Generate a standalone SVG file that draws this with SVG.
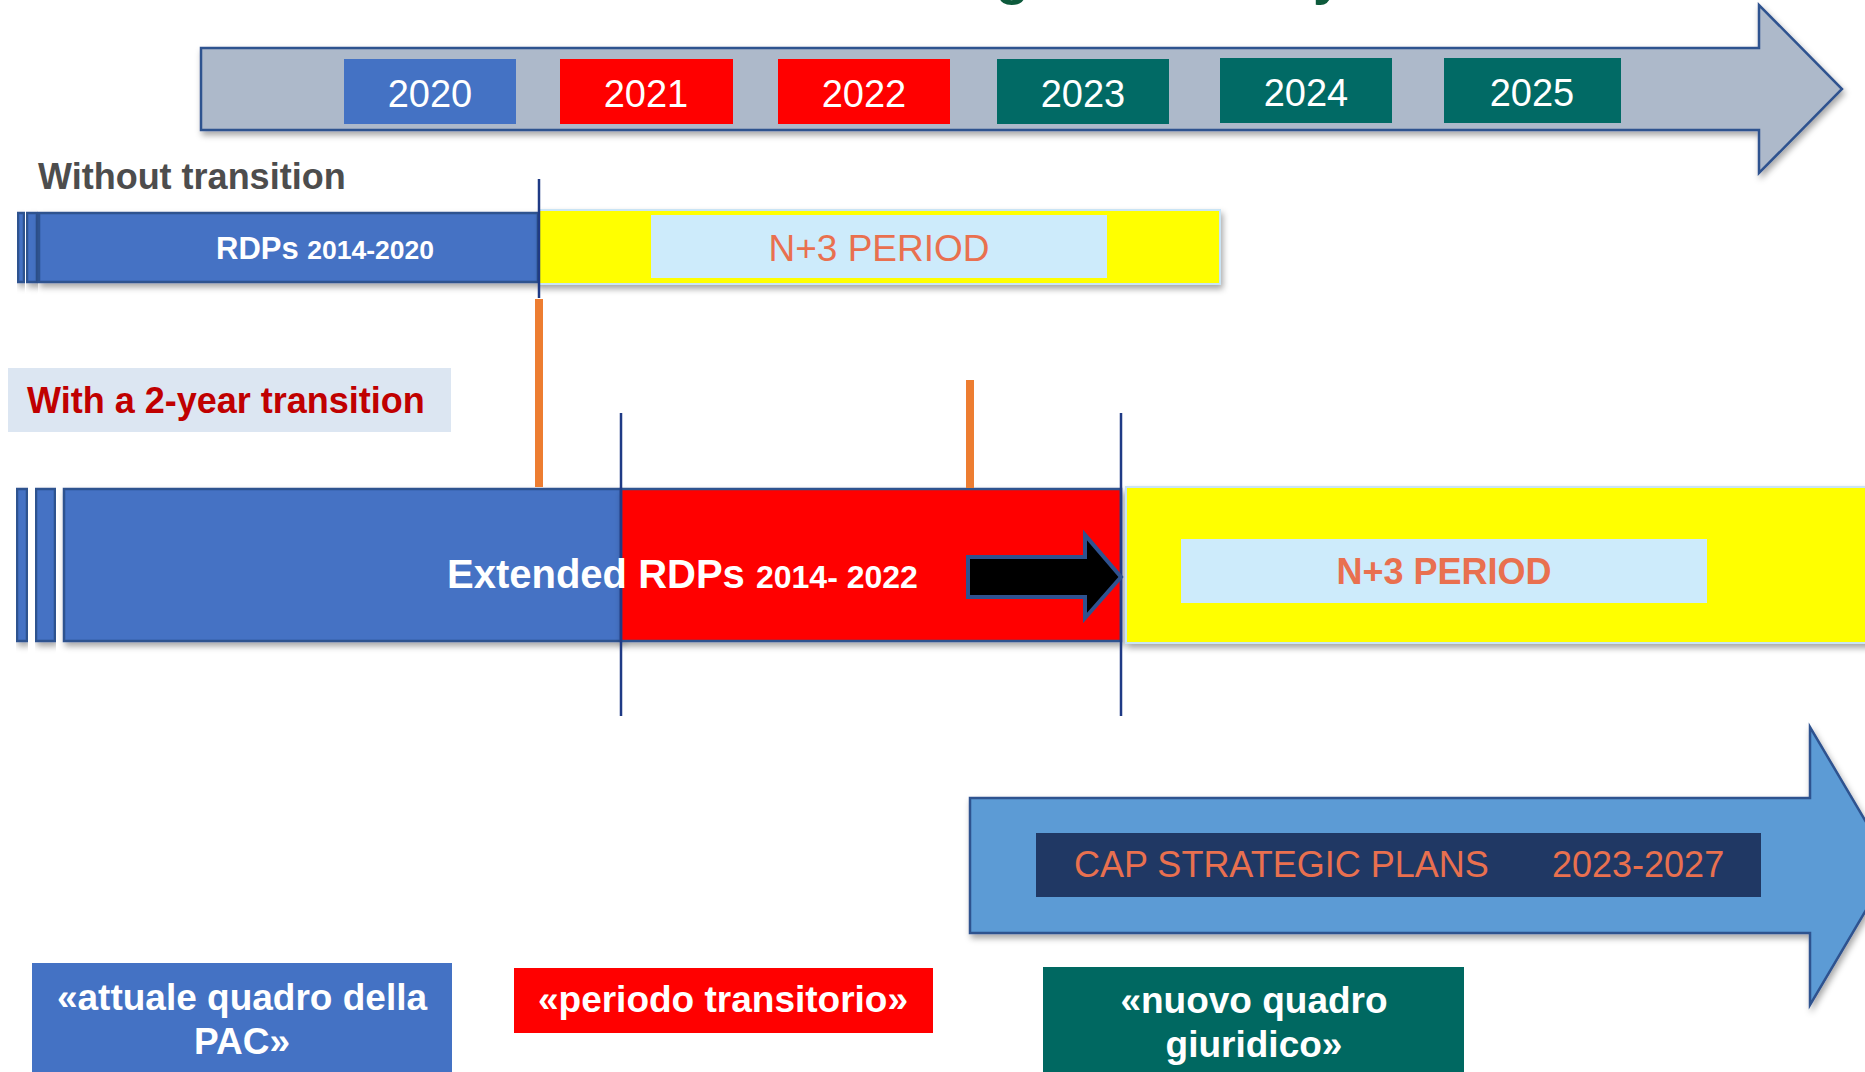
<svg xmlns="http://www.w3.org/2000/svg" width="1865" height="1072" viewBox="0 0 1865 1072">
<defs>
<filter id="sh" x="-5%" y="-20%" width="110%" height="150%">
<feDropShadow dx="2" dy="4" stdDeviation="3" flood-color="#000" flood-opacity="0.35"/>
</filter>
</defs>
<style>
.t{font-family:"Liberation Sans",Arial,sans-serif}
.b{font-weight:bold}
.yr{font-size:38px;fill:#fff;text-anchor:middle}
.bar{fill:#4472c4;stroke:#2f528f;stroke-width:2.5}
.red{fill:#ff0000;stroke:#2f528f;stroke-width:2.5}
.yel{fill:#ffff00;stroke:#c9e4f5;stroke-width:2}
.inner{fill:#cdebfb}
.coral{fill:#e9704f}
.wht{fill:#fff}
.vl{stroke:#1f3a85;stroke-width:2.5}
.or{stroke:#ed7d31;stroke-width:8}
</style>

<g id="title">
<text class="t b" x="996" y="-6" font-size="54" fill="#0d5a3c">g</text>
<text class="t b" x="1313" y="-6" font-size="54" fill="#0d5a3c">y</text>
</g>

<g id="timeline-arrow">
<path d="M201,48 L1759,48 L1759,5 L1842,89 L1759,173 L1759,130 L201,130 Z" fill="#adb9ca" stroke="#2f528f" stroke-width="2.5" filter="url(#sh)"/>
</g>
<g id="y2020"><rect x="344" y="59" width="172" height="65" fill="#4472c4"/><text class="t yr" x="430" y="107">2020</text></g>
<g id="y2021"><rect x="560" y="59" width="173" height="65" fill="#ff0000"/><text class="t yr" x="646" y="107">2021</text></g>
<g id="y2022"><rect x="778" y="59" width="172" height="65" fill="#ff0000"/><text class="t yr" x="864" y="107">2022</text></g>
<g id="y2023"><rect x="997" y="59" width="172" height="65" fill="#016a65"/><text class="t yr" x="1083" y="107">2023</text></g>
<g id="y2024"><rect x="1220" y="58" width="172" height="65" fill="#016a65"/><text class="t yr" x="1306" y="106">2024</text></g>
<g id="y2025"><rect x="1444" y="58" width="177" height="65" fill="#016a65"/><text class="t yr" x="1532" y="106">2025</text></g>

<g id="label-without">
<text class="t b" x="38" y="189" font-size="36" fill="#4d4d4d">Without transition</text>
</g>

<g id="rdps-2014-2020">
<rect class="bar" x="18" y="213" width="6" height="69" filter="url(#sh)"/>
<rect class="bar" x="27" y="213" width="10" height="69" filter="url(#sh)"/>
<rect class="bar" x="39" y="213" width="499" height="69" filter="url(#sh)"/>
<text class="t b wht" x="216" y="259" font-size="31">RDPs <tspan font-size="26.5">2014-2020</tspan></text>
</g>

<g id="n3-top">
<rect class="yel" x="539" y="210" width="681" height="74" filter="url(#sh)"/>
<rect class="inner" x="651" y="215" width="456" height="63"/>
<text class="t coral" x="879" y="261" font-size="37" text-anchor="middle">N+3 PERIOD</text>
</g>

<g id="label-with">
<rect x="8" y="368" width="443" height="64" fill="#dce6f2"/>
<text class="t b" x="27" y="413" font-size="36" fill="#c00000">With a 2-year transition</text>
</g>

<g id="extended-rdps">
<rect class="bar" x="17" y="489" width="10" height="152" filter="url(#sh)"/>
<rect class="bar" x="36" y="489" width="19" height="152" filter="url(#sh)"/>
<rect class="bar" x="64" y="489" width="557" height="152" filter="url(#sh)"/>
<rect class="red" x="621" y="489" width="500" height="152" filter="url(#sh)"/>
</g>

<g id="n3-bottom">
<rect class="yel" x="1126" y="487" width="745" height="156" filter="url(#sh)"/>
<rect class="inner" x="1181" y="539" width="526" height="64"/>
<text class="t b coral" x="1444" y="584" font-size="36" text-anchor="middle">N+3 PERIOD</text>
</g>

<g id="connectors">
<line class="vl" x1="539" y1="179" x2="539" y2="298"/>
<line class="or" x1="539" y1="299" x2="539" y2="487"/>
<line class="or" x1="970" y1="380" x2="970" y2="488"/>
<line class="vl" x1="621" y1="413" x2="621" y2="716"/>
<line class="vl" x1="1121" y1="413" x2="1121" y2="716"/>
<path d="M968,557 L1085,557 L1085,535 L1121,577 L1085,618 L1085,597 L968,597 Z" fill="#000" stroke="#2f528f" stroke-width="4"/>
</g>

<g id="extended-label">
<text class="t b wht" x="447" y="588" font-size="40">Extended RDPs <tspan font-size="32">2014- 2022</tspan></text>
</g>

<g id="cap-plans">
<path d="M970,798 L1810,798 L1810,727 L1892,866 L1810,1005 L1810,933 L970,933 Z" fill="#5b9bd5" stroke="#2f528f" stroke-width="2.5" filter="url(#sh)"/>
<rect x="1036" y="833" width="725" height="64" fill="#203864"/>
<text class="t coral" x="1074" y="877" font-size="36">CAP STRATEGIC PLANS</text>
<text class="t coral" x="1552" y="877" font-size="36">2023-2027</text>
</g>

<g id="box-attuale">
<rect x="32" y="963" width="420" height="120" fill="#4472c4"/>
<text class="t b wht" x="242" y="1010" font-size="37" text-anchor="middle">«attuale quadro della</text>
<text class="t b wht" x="242" y="1054" font-size="37" text-anchor="middle">PAC»</text>
</g>

<g id="box-transitorio">
<rect x="514" y="968" width="419" height="65" fill="#ff0000"/>
<text class="t b wht" x="723" y="1012" font-size="37" text-anchor="middle">«periodo transitorio»</text>
</g>

<g id="box-nuovo">
<rect x="1043" y="967" width="421" height="120" fill="#006861"/>
<text class="t b wht" x="1254" y="1013" font-size="37" text-anchor="middle">«nuovo quadro</text>
<text class="t b wht" x="1254" y="1057" font-size="37" text-anchor="middle">giuridico»</text>
</g>
</svg>
